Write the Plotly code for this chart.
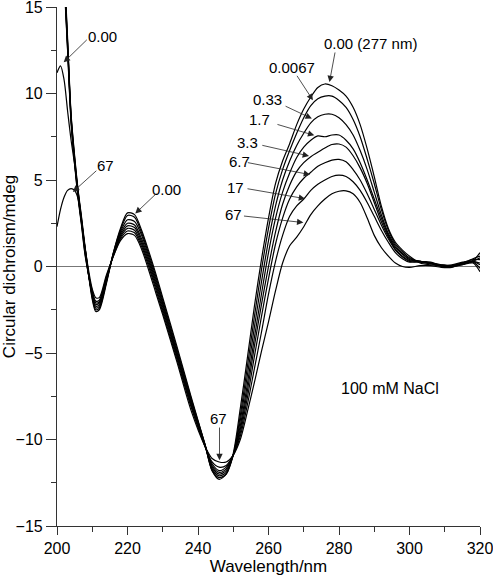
import plotly.graph_objects as go

# Wavelength grid (nm)
wavelength = [200, 201, 202, 203, 204, 205, 206, 207, 208, 210, 211, 212, 214, 216, 218, 220,
              222, 224, 226, 228, 230, 234, 238, 242, 244, 246, 248, 250, 252, 254, 256, 258,
              260, 262, 264, 266, 268, 270, 272, 274, 276, 278, 280, 282, 284, 286, 288, 290,
              292, 294, 296, 298, 300, 303, 306, 309, 312, 315, 318, 320]

# CD values (mdeg) for each added concentration
cd_0_00 = [11.2, 11.6, 10.8, 9.0, 7.3, 5.9, 4.3, 2.6, 1.0,
           -1.9, -2.6, -2.5, -1.0, 0.8, 2.2, 3.1, 3.0, 2.1, 0.9, -0.4, -1.8,
           -4.6, -7.5, -10.3,
           -11.8, -12.3, -12.0, -10.8, -8.2, -5.3, -2.3,
           0.4, 2.8, 4.8, 6.1, 7.1, 8.2, 9.1, 9.8, 10.35, 10.55, 10.45, 10.2, 9.85, 9.2, 8.2, 6.8,
           5.2, 3.5, 2.2, 1.4, 0.95, 0.6,
           0.2, 0.1, 0.05, 0.1, 0.25, 0.35, 0.8]
cd_0_0067 = [32, 25, 17.8, 13.2, 8.8, 6.4, 4.4, 2.8, 1.1,
             -1.8, -2.5, -2.4, -0.9, 0.8, 2.1, 2.95, 2.85, 1.95, 0.75, -0.55, -1.95,
             -4.75, -7.6, -10.3,
             -11.8, -12.2, -12.0, -10.9, -8.6, -5.8, -2.9,
             -0.2, 2.2, 4.2, 5.6, 6.7, 7.7, 8.6, 9.3, 9.7, 9.85, 9.85, 9.6, 9.2, 8.5, 7.5, 6.2,
             4.8, 3.3, 2.1, 1.3, 0.85, 0.5,
             0.25, 0.15, 0.05, 0.05, 0.2, 0.3, 0.5]
cd_0_33 = [31, 24.5, 17.5, 13.0, 8.7, 6.3, 4.3, 2.7, 1.0,
           -1.7, -2.4, -2.3, -0.9, 0.75, 2.0, 2.7, 2.6, 1.8, 0.6, -0.7, -2.1,
           -4.9, -7.7, -10.3,
           -11.7, -12.1, -11.9, -10.9, -8.9, -6.3, -3.5,
           -0.9, 1.5, 3.5, 5.0, 6.1, 7.0, 7.7, 8.3, 8.65, 8.8, 8.8, 8.6, 8.2, 7.6, 6.7, 5.6,
           4.3, 3.0, 1.9, 1.2, 0.75, 0.45,
           0.3, 0.2, 0.1, 0.05, 0.15, 0.3, 0.2]
cd_1_7 = [31, 24, 17.3, 12.9, 8.6, 6.2, 4.2, 2.6, 0.9,
          -1.65, -2.3, -2.2, -0.8, 0.7, 1.9, 2.5, 2.4, 1.6, 0.45, -0.85, -2.2,
          -5.0, -7.8, -10.35,
          -11.6, -12.0, -11.8, -10.9, -9.2, -6.8, -4.1,
          -1.6, 0.8, 2.8, 4.3, 5.4, 6.3, 6.9, 7.3, 7.55, 7.5, 7.6, 7.6, 7.3, 6.8, 6.0, 5.0,
          3.9, 2.8, 1.8, 1.1, 0.7, 0.4,
          0.3, 0.25, 0.05, 0.0, 0.15, 0.25, -0.1]
cd_3_3 = [30, 23.5, 17.1, 12.8, 8.5, 6.1, 4.1, 2.5, 0.8,
          -1.6, -2.2, -2.1, -0.75, 0.7, 1.8, 2.35, 2.25, 1.45, 0.3, -1.0, -2.35,
          -5.1, -7.9, -10.35,
          -11.5, -11.9, -11.7, -10.9, -9.4, -7.2, -4.6,
          -2.2, 0.0, 2.0, 3.6, 4.7, 5.5, 6.0, 6.35, 6.6, 6.85, 7.05, 7.08, 6.9, 6.4, 5.7, 4.8,
          3.7, 2.6, 1.7, 1.0, 0.6, 0.35,
          0.3, 0.2, 0.1, 0.05, 0.2, 0.4, 0.4]
cd_6_7 = [30, 23, 16.9, 12.6, 8.4, 6.0, 4.0, 2.4, 0.7,
          -1.5, -2.1, -2.05, -0.7, 0.65, 1.7, 2.2, 2.1, 1.3, 0.15, -1.15, -2.5,
          -5.2, -8.0, -10.4,
          -11.4, -11.8, -11.6, -10.9, -9.6, -7.6, -5.2,
          -2.9, -0.7, 1.3, 2.8, 3.9, 4.6, 5.1, 5.45, 5.8, 6.0, 6.15, 6.19, 6.05, 5.6, 5.0, 4.2,
          3.3, 2.4, 1.6, 0.95, 0.55, 0.3,
          0.25, 0.2, 0.05, 0.0, 0.1, 0.2, -0.3]
cd_17 = [29, 22.5, 16.7, 12.5, 8.3, 5.9, 3.9, 2.3, 0.6,
         -1.4, -2.0, -1.95, -0.6, 0.6, 1.6, 2.05, 1.95, 1.15, 0.0, -1.3, -2.65,
         -5.35, -8.1, -10.4,
         -11.3, -11.6, -11.5, -10.9, -9.8, -8.0, -5.9,
         -3.8, -1.6, 0.3, 1.8, 2.9, 3.5, 3.9, 4.4, 4.75, 5.0, 5.2, 5.28, 5.2, 4.9, 4.4, 3.7,
         2.9, 2.1, 1.4, 0.8, 0.45, 0.25,
         0.3, 0.2, 0.0, 0.0, 0.1, 0.3, 0.1]
cd_67 = [2.3, 3.3, 4.0, 4.4, 4.5, 4.4, 3.9, 2.5, 1.0,
         -1.3, -1.8, -1.8, -0.5, 0.6, 1.5, 1.9, 1.8, 1.0, -0.2, -1.5, -2.8,
         -5.5, -8.3, -10.4,
         -11.1, -11.3, -11.3, -10.9, -10.0, -8.4, -6.7,
         -4.9, -3.2, -1.4, 0.2, 1.2, 1.7, 2.3, 3.0, 3.5, 3.9, 4.2, 4.35, 4.37, 4.2, 3.7, 2.8,
         1.8, 1.1, 0.6, 0.2, 0.0, -0.05,
         0.05, 0.05, -0.05, -0.05, 0.2, 0.45, 0.6]

series_names = ["0.00", "0.0067", "0.33", "1.7", "3.3", "6.7", "17", "67"]
series_values = [cd_0_00, cd_0_0067, cd_0_33, cd_1_7, cd_3_3, cd_6_7, cd_17, cd_67]

FONT = "Arial, Liberation Sans, sans-serif"

fig = go.Figure()
for name, vals in zip(series_names, series_values):
    fig.add_trace(go.Scatter(
        x=wavelength, y=vals, mode="lines", name=name,
        line=dict(color="black", width=1.2, shape="spline", smoothing=0.8),
        showlegend=False, hoverinfo="skip"))

# label text: (text, x, y, size)
labels = [
    ("0.00", 212.8, 13.3, 15),
    ("67", 213.7, 5.85, 15),
    ("0.00", 231.0, 4.46, 15),
    ("67", 245.8, -8.8, 15),
    ("0.00 (277 nm)", 288.8, 12.9, 15),
    ("0.0067", 266.6, 11.53, 15),
    ("0.33", 259.8, 9.66, 15),
    ("1.7", 257.4, 8.49, 15),
    ("3.3", 253.9, 7.16, 15),
    ("6.7", 251.7, 6.08, 15),
    ("17", 250.7, 4.56, 15),
    ("67", 250.1, 3.0, 15),
    ("100 mM NaCl", 294.5, -7.06, 16),
]
# arrows: (tail x, tail y, tip x, tip y)
arrows = [
    (208.6, 13.13, 201.9, 11.8),
    (211.3, 5.56, 204.5, 4.31),
    (228.35, 4.25, 222.2, 3.06),
    (246.1, -9.28, 246.1, -11.2),
    (278.9, 12.4, 277.3, 10.66),
    (268.0, 11.05, 272.6, 9.61),
    (264.7, 9.28, 272.3, 8.55),
    (262.4, 8.22, 273.0, 7.58),
    (258.1, 7.01, 271.5, 6.39),
    (254.0, 6.01, 271.8, 5.31),
    (253.9, 4.5, 270.4, 3.92),
    (252.9, 2.92, 269.9, 2.54),
]

annotations = []
for text, x, y, size in labels:
    annotations.append(dict(text=text, x=x, y=y, xref="x", yref="y", showarrow=False,
                            font=dict(family=FONT, size=size, color="black"),
                            xanchor="center", yanchor="middle"))
for tx, ty, hx, hy in arrows:
    annotations.append(dict(text="", x=hx, y=hy, xref="x", yref="y",
                            ax=tx, ay=ty, axref="x", ayref="y",
                            showarrow=True, arrowhead=2, arrowsize=1.6, arrowwidth=0.8,
                            arrowcolor="#222", font=dict(size=1), borderpad=0, standoff=0))

fig.update_layout(
    width=493, height=579,
    margin=dict(l=57, r=13, t=7, b=53),
    paper_bgcolor="white", plot_bgcolor="white",
    font=dict(family=FONT, size=16, color="black"),
    annotations=annotations,
    showlegend=False,
)
fig.update_xaxes(
    range=[200, 320], dtick=20, tick0=200, automargin=False, ticklabeloverflow="allow",
    ticks="outside", ticklen=8, tickwidth=1, tickcolor="#333",
    minor=dict(ticks="outside", dtick=10, ticklen=4.5, tickwidth=1, tickcolor="#333"),
    showline=True, linecolor="#333", linewidth=1.2, mirror=False,
    showgrid=False, zeroline=False,
    tickfont=dict(family=FONT, size=16, color="black"),
    title=dict(text="Wavelength/nm", font=dict(family=FONT, size=17, color="black"), standoff=2),
)
fig.update_yaxes(
    range=[-15, 15], dtick=5, tick0=0, automargin=False, ticklabeloverflow="allow",
    ticks="outside", ticklen=10, tickwidth=1, tickcolor="#333",
    minor=dict(ticks="outside", dtick=2.5, ticklen=5, tickwidth=1, tickcolor="#333"),
    showline=True, linecolor="#333", linewidth=1.2, mirror=False,
    showgrid=False, zeroline=True, zerolinecolor="#777", zerolinewidth=1,
    tickfont=dict(family=FONT, size=16, color="black"),
    title=dict(text="Circular dichroism/mdeg", font=dict(family=FONT, size=17, color="black"), standoff=2),
)

fig.write_html("out.html", config={"displayModeBar": False},
               post_script="document.body.style.margin='0';document.body.style.overflow='hidden';")
